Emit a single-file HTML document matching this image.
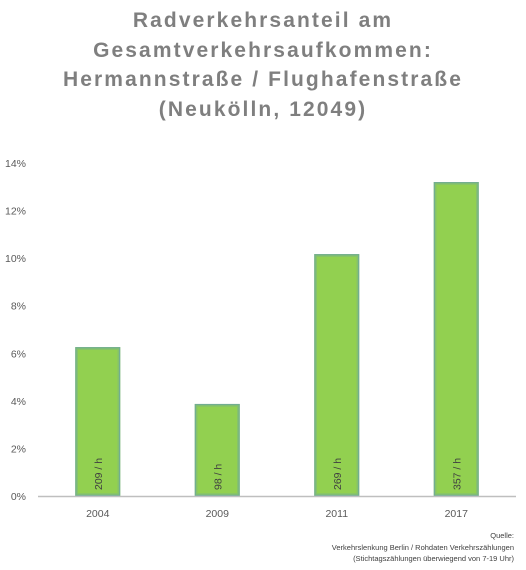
<!DOCTYPE html>
<html><head><meta charset="utf-8"><style>
body{margin:0;background:#fff;width:526px;height:570px;overflow:hidden;font-family:"Liberation Sans",sans-serif}
#title{position:absolute;left:0;top:6px;width:526px;text-align:center;font-weight:bold;font-size:21px;line-height:29.5px;color:#7f7f7f;letter-spacing:2.1px}
#src{position:absolute;right:12px;top:530px;text-align:right;font-size:7.5px;line-height:11.5px;color:#404040}
</style></head><body>
<div id="title">Radverkehrsanteil am<br>Gesamtverkehrsaufkommen:<br>Hermannstraße / Flughafenstraße<br>(Neukölln, 12049)</div>
<svg id="chart" width="526" height="570" style="position:absolute;left:0;top:0">
</svg>
<div id="src">Quelle:<br>Verkehrslenkung Berlin / Rohdaten Verkehrszählungen<br>(Stichtagszählungen überwiegend von 7-19 Uhr)</div>
<script>
const categories=["2004","2009","2011","2017"];
const values=[6.26,3.87,10.17,13.2];
const barLabels=["209 / h","98 / h","269 / h","357 / h"];
const yTicks=[0,2,4,6,8,10,12,14];
const svg=document.getElementById('chart');
const NS='http://www.w3.org/2000/svg';
const x0=38,x1=516,yb=496,yt=163,ymax=14;
const y=v=>yb-(v/ymax)*(yb-yt);
const band=(x1-x0)/categories.length;
const xc=i=>x0+band*(i+0.5);
function mk(t,a){const e=document.createElementNS(NS,t);for(const k in a)e.setAttribute(k,a[k]);svg.appendChild(e);return e;}
yTicks.forEach(v=>{
 const t=mk('text',{x:26,y:y(v)+4,'text-anchor':'end','font-size':'10.5','fill':'#595959','font-family':'Liberation Sans, sans-serif'});
 t.textContent=v+'%';
 
 
});
const bw=45;
categories.forEach((c,i)=>{
 const r=mk('rect',{x:xc(i)-bw/2,y:y(values[i]),width:bw,height:yb-y(values[i]),fill:'#92d050'});
 
 
 const e1=mk('rect',{x:xc(i)-bw/2+0.75,y:y(values[i])+0.75,width:bw-1.5,height:yb-y(values[i])-1.5,fill:'none',stroke:'#72ad92','stroke-width':1.5});
 
 
 const e2=mk('rect',{x:xc(i)-bw/2+2,y:y(values[i])+2,width:bw-4,height:yb-y(values[i])-4,fill:'none',stroke:'#85c26a','stroke-width':1.5});
 
 
 const l=mk('text',{x:0,y:0,'font-size':'10.5','fill':'#404040','font-family':'Liberation Sans, sans-serif',transform:`translate(${xc(i)+4},${yb-6}) rotate(-90)`});
 l.textContent=barLabels[i];
 
 
 const t=mk('text',{x:xc(i),y:517,'text-anchor':'middle','font-size':'10.5','fill':'#595959','font-family':'Liberation Sans, sans-serif'});
 t.textContent=c;
 
 
});
const ax=mk('line',{x1:x0,x2:x1,y1:yb+0.5,y2:yb+0.5,stroke:'#bfbfbf','stroke-width':1.5});


</script>
</body></html>
